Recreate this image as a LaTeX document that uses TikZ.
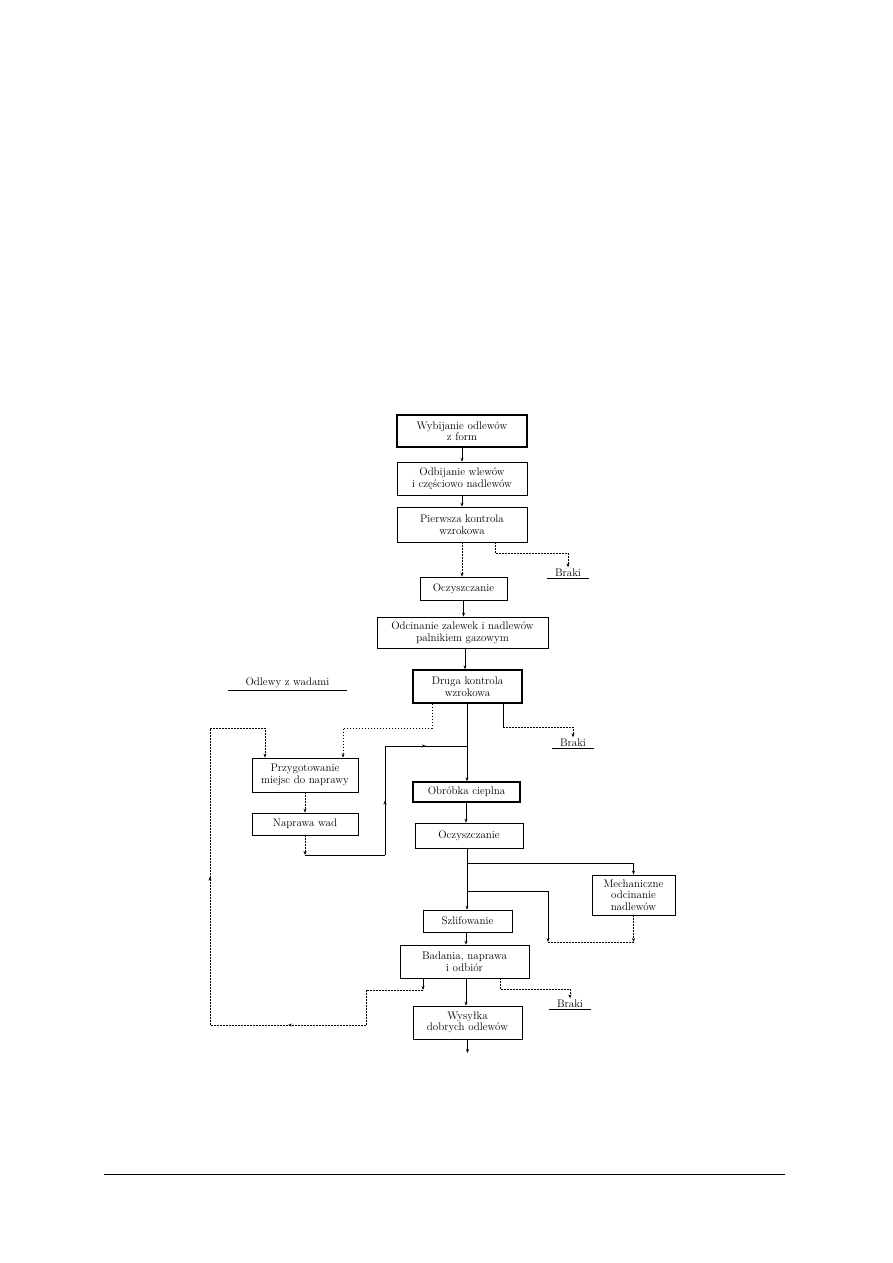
\documentclass[tikz,border=0pt]{standalone}
\usepackage{fontspec}
\usetikzlibrary{arrows.meta,positioning,decorations.markings}

\begin{document}
\begin{tikzpicture}[
  x=1pt,y=-1pt,
  font=\fontsize{11}{11.5}\selectfont,
  line width=0.6pt,
  >={Stealth[length=4pt,width=3pt]},
  box/.style={draw,align=center,inner sep=1pt,line width=0.7pt},
  heavybox/.style={box,line width=1.4pt},
  dotline/.style={dash pattern=on 1.6pt off 1.4pt},
  tag/.style={inner sep=1.5pt},
  midarrow/.style={postaction={decorate},
    decoration={markings,mark=at position .5 with {\pgfsetdash{}{0pt}\arrow{>}}}}
]
\useasboundingbox (0,0) rectangle (893,1263);

% main column
\node[heavybox,minimum width=130,minimum height=32] (wybij) at (462,431) {Wybijanie odlewów\\z form};
\node[box,minimum width=130,minimum height=33] (odbij) at (462,478.5) {Odbijanie wlewów\\i częściowo nadlewów};
\node[box,minimum width=130,minimum height=35] (pierw) at (462,524.5) {Pierwsza kontrola\\wzrokowa};
\node[box,minimum width=87,minimum height=23] (oczy1) at (463.5,588.5) {Oczyszczanie};
\node[box,minimum width=171,minimum height=31] (odcin) at (462.5,632.5) {Odcinanie zalewek i nadlewów\\palnikiem gazowym};
\node[heavybox,minimum width=109,minimum height=33] (druga) at (467.5,686.5) {Druga kontrola\\wzrokowa};
\node[heavybox,minimum width=107,minimum height=20] (obrob) at (466.5,792) {Obróbka cieplna};
\node[box,minimum width=108,minimum height=25] (oczy2) at (469,835.5) {Oczyszczanie};
\node[box,minimum width=89,minimum height=22] (szlif) at (467.5,921) {Szlifowanie};
\node[box,minimum width=129,minimum height=33] (badan) at (464.5,961.5) {Badania, naprawa\\i odbiór};
\node[box,minimum width=109,minimum height=33] (wysyl) at (467.5,1022.5) {Wysyłka\\dobrych odlewów};

% side boxes
\node[box,minimum width=106,minimum height=34] (przyg) at (305,775) {Przygotowanie\\miejsc do naprawy};
\node[box,minimum width=106,minimum height=22] (napraw) at (305,824) {Naprawa wad};
\node[box,minimum width=83,minimum height=40] (mech) at (633.5,895) {Mechaniczne\\odcinanie\\nadlewów};

% labels
\node[tag,minimum width=42] (braki1) at (568,573) {Braki};
\node[tag,minimum width=42] (braki2) at (573,743) {Braki};
\node[tag,minimum width=42] (braki3) at (570,1004) {Braki};
\node[tag,minimum width=119] (wady) at (287.5,683) {Odlewy z wadami};
\foreach \n in {braki1,braki2,braki3,wady}
  \draw (\n.south west) -- (\n.south east);

% bend points
\coordinate (p1) at (495,553);
\coordinate (d1) at (432,728);
\coordinate (d2) at (503,727);
\coordinate (n1) at (305,855);
\coordinate (n2) at (385,855);
\coordinate (n3) at (385,746);
\coordinate (n4) at (467,746);
\coordinate (o1) at (467,863);
\coordinate (o2) at (467,891);
\coordinate (o3) at (548,942);
\coordinate (b1) at (423,990);
\coordinate (b2) at (366,1025);
\coordinate (b3) at (210,1025);
\coordinate (b4) at (210,728);
\coordinate (b5) at (500,989);
\coordinate (w1) at (467.5,1053);

% top part
\draw[->] (wybij) -- (odbij);
\draw[->] (odbij) -- (pierw);
\draw[dotline,->] (pierw.south) -- (pierw.south |- oczy1.north);
\draw[dotline,->] (pierw.south -| p1) -- (p1) -| (braki1.north);
\draw[->] (oczy1) -- (oczy1.south |- odcin.north);
\draw[->] (odcin.south -| 465,0) -- (druga.north -| 465,0);

% second inspection
\draw[->] (druga.south -| 467,0) -- (obrob.north -| 467,0);
\draw[dotline,->] (druga.south -| d1) -- (d1) -| ([xshift=38pt]przyg.north);
\draw (druga.south -| d2) -- (d2);
\draw[dotline,->] (d2) -| (braki2.north);

% repair loop
\draw[dotline,->] (przyg) -- (napraw);
\draw[dotline,->] (napraw) -- (n1);
\draw (n1) -- (n2);
\draw[midarrow] (n2) -- (n3);
\draw[midarrow] (n3) -- (n4);

% finishing
\draw[->] (obrob.south -| 466,0) -- (oczy2.north -| 466,0);
\draw[->] (oczy2.south -| 467,0) -- (szlif.north -| 467,0);
\draw[->] (o1) -| (mech.north);
\draw[->] (o2) -| (o3);
\draw[dotline,->] (mech.south) -- (mech.south |- o3);
\draw[dotline] (o3) -- (mech.south |- o3);
\draw[->] (szlif.south -| 466,0) -- (badan.north -| 466,0);
\draw[->] (badan.south -| 466,0) -- (wysyl.north -| 466,0);
\draw[->] (wysyl) -- (w1);

% return of defective castings
\draw[->] (badan.south -| b1) -- (b1);
\draw[dotline] (b1) -| (b2);
\draw[dotline,midarrow] (b2) -- (b3);
\draw[dotline,midarrow] (b3) -- (b4);
\draw[dotline,->] (b4) -| ([xshift=-40pt]przyg.north);
\draw[dotline,->] (badan.south -| b5) -- (b5) -| (braki3.north);

% page rule
\coordinate (rl) at (104,1174);
\coordinate (rr) at (785,1174);
\draw[line width=1pt] (rl) -- (rr);
\end{tikzpicture}
\end{document}
